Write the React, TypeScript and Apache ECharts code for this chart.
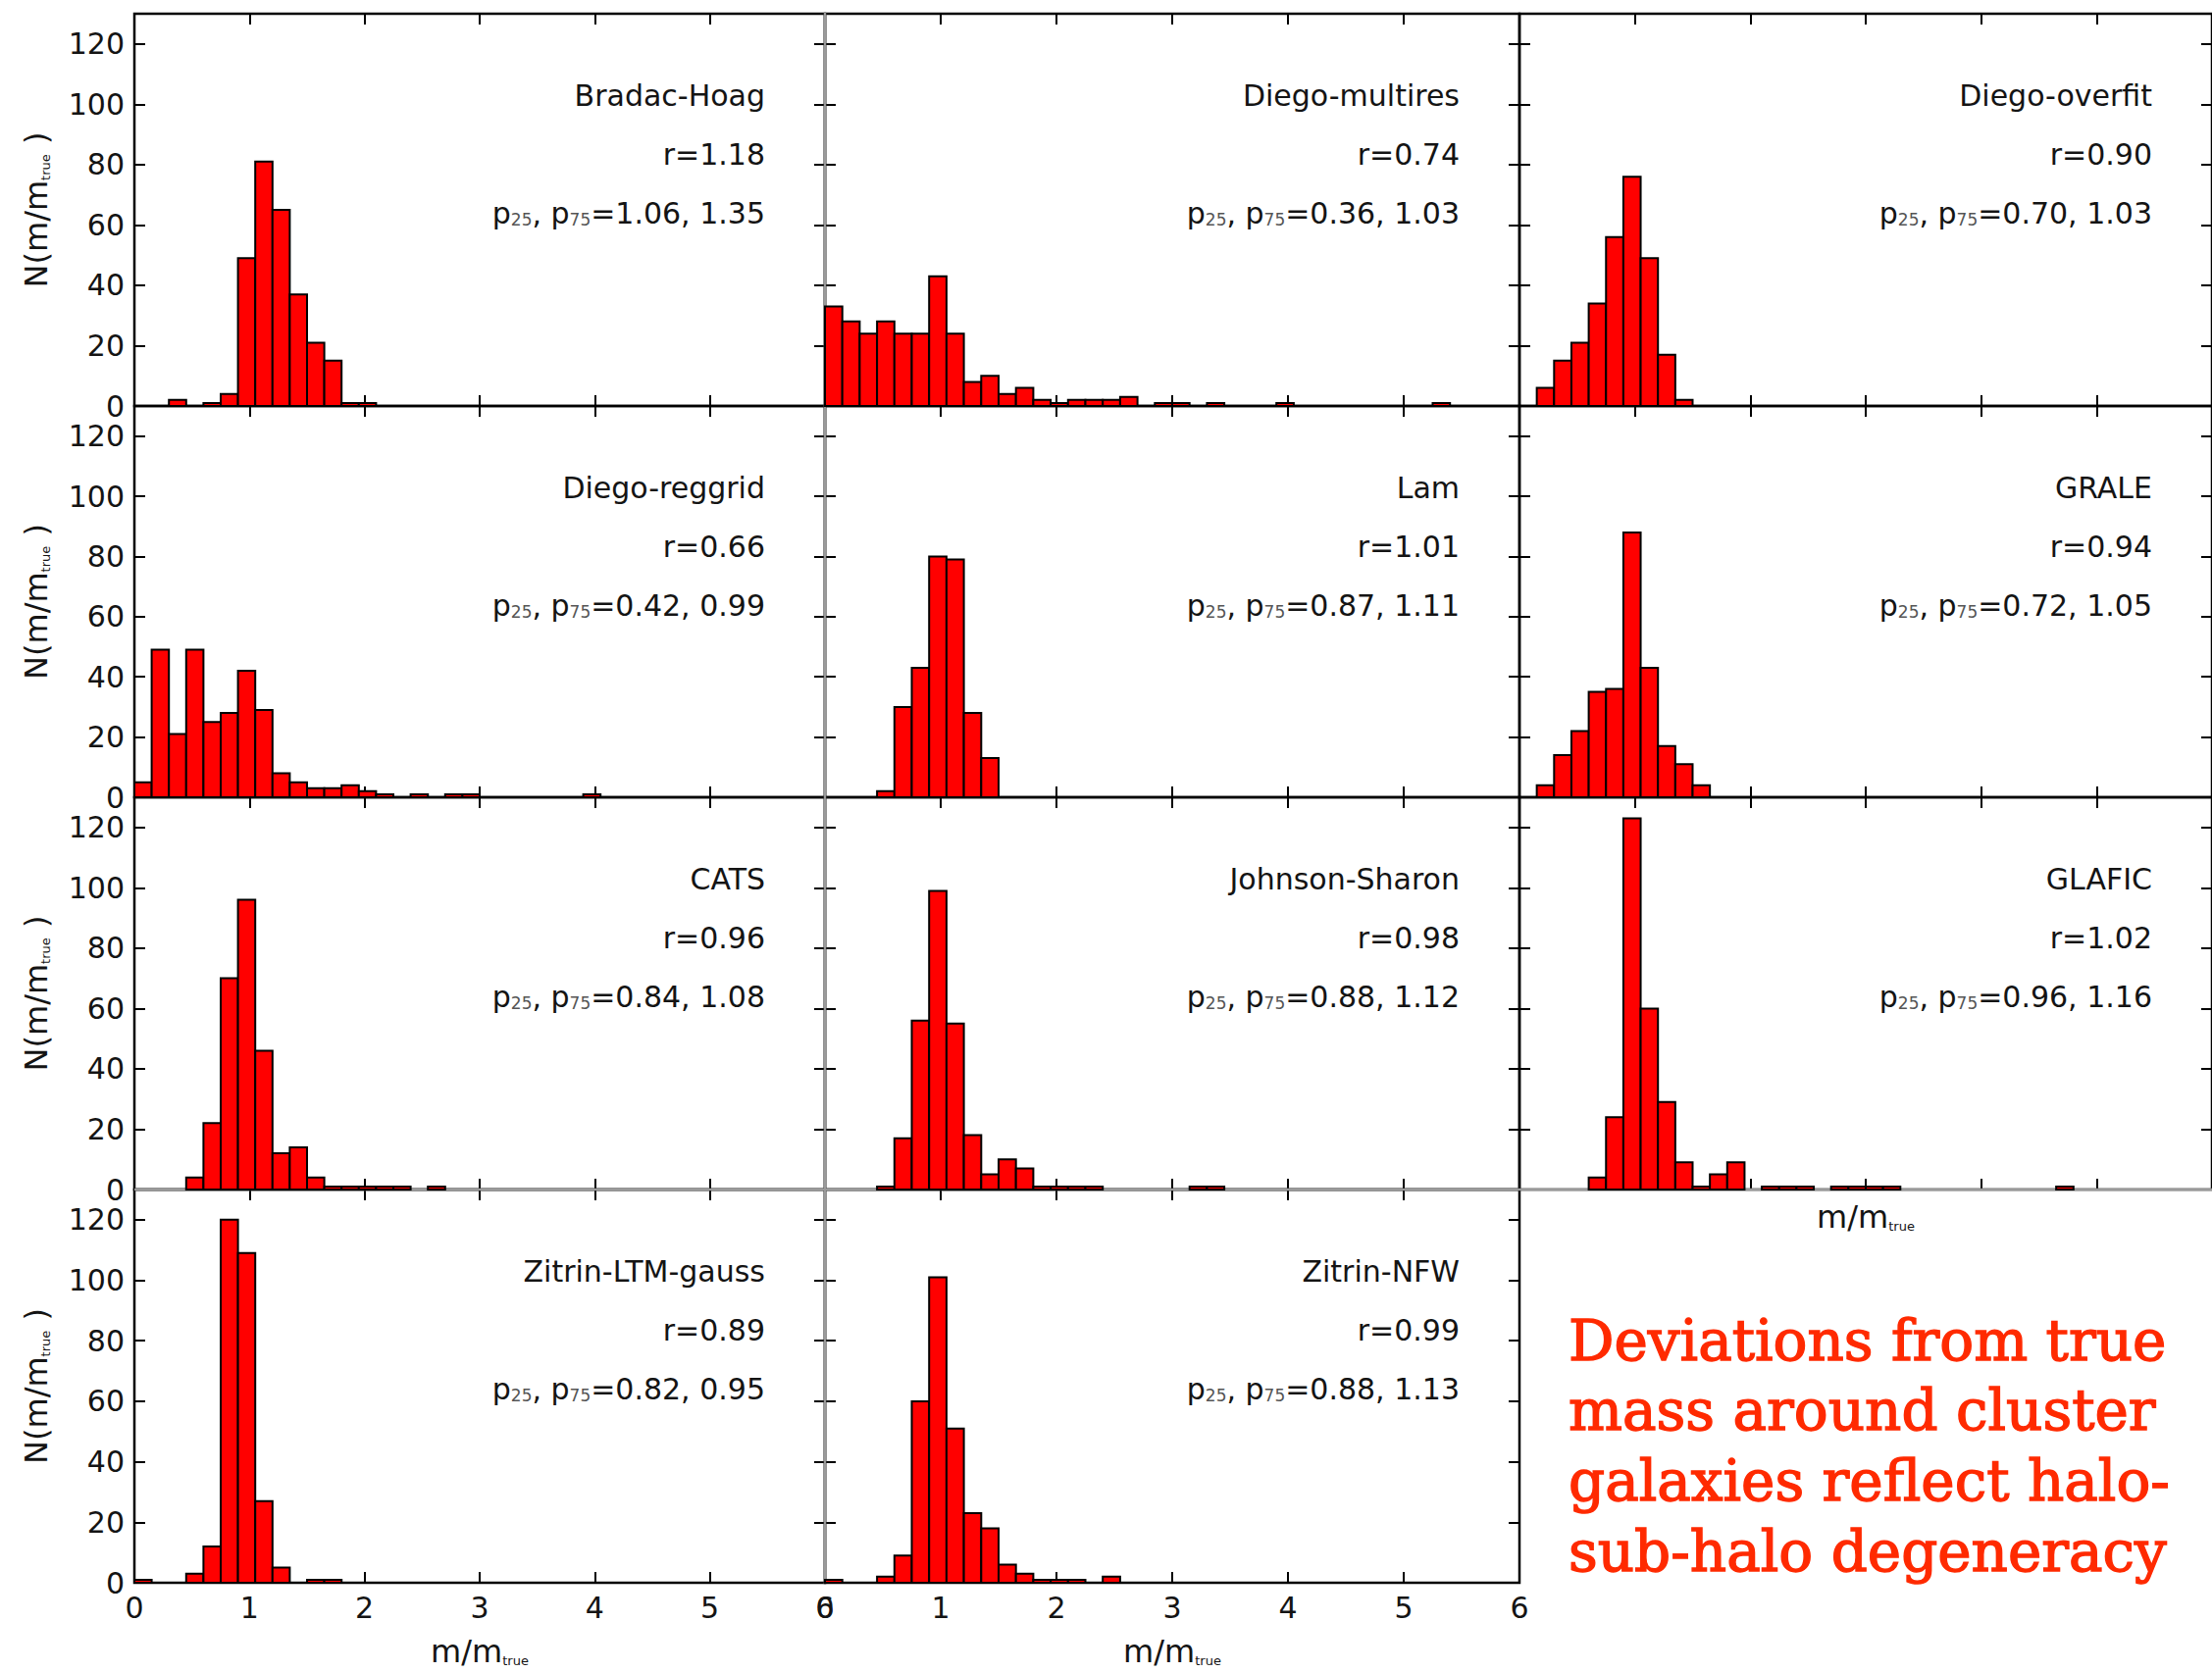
import React, { useEffect, useRef } from "react";
import * as echarts from "echarts";

// ---------------- data ----------------
const BIN_WIDTH = 0.15;
const X_MIN = 0;
const X_MAX = 6;
const X_INTERVAL = 1;
const Y_MIN = 0;
const Y_MAX = 130;
const Y_INTERVAL = 20;

const modelNames = [
  "Bradac-Hoag", "Diego-multires", "Diego-overfit",
  "Diego-reggrid", "Lam", "GRALE",
  "CATS", "Johnson-Sharon", "GLAFIC",
  "Zitrin-LTM-gauss", "Zitrin-NFW",
];
const rValues = ["1.18", "0.74", "0.90", "0.66", "1.01", "0.94", "0.96", "0.98", "1.02", "0.89", "0.99"];
const p25Values = ["1.06", "0.36", "0.70", "0.42", "0.87", "0.72", "0.84", "0.88", "0.96", "0.82", "0.88"];
const p75Values = ["1.35", "1.03", "1.03", "0.99", "1.11", "1.05", "1.08", "1.12", "1.16", "0.95", "1.13"];

// histogram counts, bin k covers [k*0.15, (k+1)*0.15)
const bradacHoagCounts = [0, 0, 2, 0, 1, 4, 49, 81, 65, 37, 21, 15, 1, 1];
const diegoMultiresCounts = [33, 28, 24, 28, 24, 24, 43, 24, 8, 10, 4, 6, 2, 1, 2, 2, 2, 3, 0, 1, 1, 0, 1, 0, 0, 0, 1, 0, 0, 0, 0, 0, 0, 0, 0, 1];
const diegoOverfitCounts = [0, 6, 15, 21, 34, 56, 76, 49, 17, 2];
const diegoReggridCounts = [5, 49, 21, 49, 25, 28, 42, 29, 8, 5, 3, 3, 4, 2, 1, 0, 1, 0, 1, 1, 0, 0, 0, 0, 0, 0, 1];
const lamCounts = [0, 0, 0, 2, 30, 43, 80, 79, 28, 13];
const graleCounts = [0, 4, 14, 22, 35, 36, 88, 43, 17, 11, 4];
const catsCounts = [0, 0, 0, 4, 22, 70, 96, 46, 12, 14, 4, 1, 1, 1, 1, 1, 0, 1];
const johnsonSharonCounts = [0, 0, 0, 1, 17, 56, 99, 55, 18, 5, 10, 7, 1, 1, 1, 1, 0, 0, 0, 0, 0, 1, 1];
const glaficCounts = [0, 0, 0, 0, 4, 24, 123, 60, 29, 9, 1, 5, 9, 0, 1, 1, 1, 0, 1, 1, 1, 1, 0, 0, 0, 0, 0, 0, 0, 0, 0, 1];
const zitrinLtmGaussCounts = [1, 0, 0, 3, 12, 120, 109, 27, 5, 0, 1, 1];
const zitrinNfwCounts = [1, 0, 0, 2, 9, 60, 101, 51, 23, 18, 6, 3, 1, 1, 1, 0, 2];

const panelCounts = [
  bradacHoagCounts, diegoMultiresCounts, diegoOverfitCounts,
  diegoReggridCounts, lamCounts, graleCounts,
  catsCounts, johnsonSharonCounts, glaficCounts,
  zitrinLtmGaussCounts, zitrinNfwCounts,
];

const noteLines = [
  "Deviations from true",
  "mass around cluster",
  "galaxies reflect halo-",
  "sub-halo degeneracy",
];

// ---------------- layout / style ----------------
const COL_LEFT = [137, 841, 1549];
const COL_WIDTH = [704, 708, 706];
const ROW_TOP = [14, 414, 813, 1213];
const ROW_HEIGHT = [400, 399, 400, 401];
const FONT = "DejaVu Sans";
const INK = "#141414";

const renderBin = (_params: any, api: any) => {
  const x0 = api.value(0);
  const x1 = api.value(1);
  const n = api.value(2);
  const tl = api.coord([x0, n]);
  const br = api.coord([x1, 0]);
  return {
    type: "rect",
    shape: { x: tl[0], y: tl[1], width: br[0] - tl[0], height: br[1] - tl[1] },
    style: { fill: "#ff0000", stroke: "#000000", lineWidth: 2 },
  };
};

function buildOption() {
  const grid: any[] = [];
  const xAxis: any[] = [];
  const yAxis: any[] = [];
  const series: any[] = [];
  const graphic: any[] = [];

  const tick = { show: true, inside: true, length: 11, lineStyle: { color: "#000", width: 2 } };

  panelCounts.forEach((counts, i) => {
    const row = Math.floor(i / 3);
    const col = i % 3;
    const left = COL_LEFT[col];
    const width = COL_WIDTH[col];
    const top = ROW_TOP[row];
    const height = ROW_HEIGHT[row];

    grid.push({
      left, top, width, height,
      show: true,
      borderColor: "#000",
      borderWidth: 2.5,
      backgroundColor: "rgba(0,0,0,0)",
      containLabel: false,
      outerBoundsMode: "none",
    });

    const bottomRow = row === 3;
    const isGlafic = i === 8;
    const xName = bottomRow || isGlafic ? "{a|m/m}{b|true}" : "";
    xAxis.push({
      type: "value", gridIndex: i, position: "bottom",
      min: X_MIN, max: X_MAX, interval: X_INTERVAL,
      axisLine: { show: false, onZero: false },
      axisTick: tick,
      splitLine: { show: false },
      axisLabel: { show: bottomRow, fontFamily: FONT, fontSize: 30, color: INK, margin: 10 },
      name: xName,
      nameLocation: "middle",
      nameGap: bottomRow ? 54 : 12,
      nameTextStyle: {
        rich: {
          a: { fontFamily: FONT, fontSize: 32, color: INK },
          b: { fontFamily: FONT, fontSize: 13, color: INK, verticalAlign: "bottom", lineHeight: 12 },
        },
      },
    });
    xAxis.push({
      type: "value", gridIndex: i, position: "top",
      min: X_MIN, max: X_MAX, interval: X_INTERVAL,
      axisLine: { show: false, onZero: false },
      axisTick: tick,
      splitLine: { show: false },
      axisLabel: { show: false },
    });
    yAxis.push({
      type: "value", gridIndex: i, position: "left",
      min: Y_MIN, max: Y_MAX, interval: Y_INTERVAL,
      axisLine: { show: false, onZero: false },
      axisTick: tick,
      splitLine: { show: false },
      axisLabel: { show: col === 0, showMaxLabel: false, fontFamily: FONT, fontSize: 30, color: INK, margin: 10 },
      name: col === 0 ? "{a|N(m/m}{b|true}{a| )}" : "",
      nameLocation: "middle",
      nameGap: 84,
      nameTextStyle: {
        rich: {
          a: { fontFamily: FONT, fontSize: 32, color: INK },
          b: { fontFamily: FONT, fontSize: 13, color: INK, verticalAlign: "bottom", lineHeight: 12 },
        },
      },
    });
    yAxis.push({
      type: "value", gridIndex: i, position: "right",
      min: Y_MIN, max: Y_MAX, interval: Y_INTERVAL,
      axisLine: { show: false, onZero: false },
      axisTick: tick,
      splitLine: { show: false },
      axisLabel: { show: false },
    });

    series.push({
      type: "custom",
      name: modelNames[i],
      xAxisIndex: 2 * i,
      yAxisIndex: 2 * i,
      renderItem: renderBin,
      encode: { x: [0, 1], y: 2 },
      data: counts
        .map((n, k) => [k * BIN_WIDTH, (k + 1) * BIN_WIDTH, n])
        .filter((d) => d[2] > 0),
      z: 2,
    });

    const tx = left + width - 61;
    const textBase = { fontFamily: FONT, fontSize: 30, fill: INK, align: "right", verticalAlign: "middle" };
    graphic.push({ type: "text", x: tx, y: top + 83, z: 10, style: { ...textBase, text: modelNames[i] } });
    graphic.push({ type: "text", x: tx, y: top + 143, z: 10, style: { ...textBase, text: "r=" + rValues[i] } });
    graphic.push({
      type: "text", x: tx, y: top + 203, z: 10,
      style: {
        ...textBase,
        text: `{n|p}{s|25}{n|, p}{s|75}{n|=${p25Values[i]}, ${p75Values[i]}}`,
        rich: {
          n: { fontFamily: FONT, fontSize: 30, fill: INK, lineHeight: 30 },
          s: { fontFamily: FONT, fontSize: 17, fill: "#555", verticalAlign: "bottom", lineHeight: 13 },
        },
      },
    });
  });

  // lighter separators (as in the reference picture)
  graphic.push({ type: "line", z: 1, shape: { x1: 841, y1: 13, x2: 841, y2: 1615 }, style: { stroke: "#9a9a9a", lineWidth: 2.5 } });
  graphic.push({ type: "line", z: 1, shape: { x1: 137, y1: 1213, x2: 2255, y2: 1213 }, style: { stroke: "#9a9a9a", lineWidth: 2.5 } });

  // red note
  const noteY = [1367, 1438, 1510, 1582];
  noteLines.forEach((line, j) => {
    graphic.push({
      type: "text", x: 1599, y: noteY[j], z: 10,
      style: {
        text: line, fontFamily: "DejaVu Serif", fontSize: 58, fill: "#ff2a00",
        stroke: "#ff2a00", lineWidth: 1.4,
        align: "left", verticalAlign: "middle",
      },
    });
  });

  return {
    animation: false,
    backgroundColor: "#ffffff",
    grid, xAxis, yAxis, series, graphic,
  };
}

export default function App() {
  const ref = useRef<HTMLDivElement>(null);
  useEffect(() => {
    if (!ref.current) return;
    const chart = echarts.init(ref.current, undefined, { renderer: "svg" });
    chart.setOption(buildOption() as any);
    return () => chart.dispose();
  }, []);
  return (
    <div
      ref={ref}
      style={{ position: "absolute", left: 0, top: 0, width: 2255, height: 1705, background: "#fff" }}
    />
  );
}
